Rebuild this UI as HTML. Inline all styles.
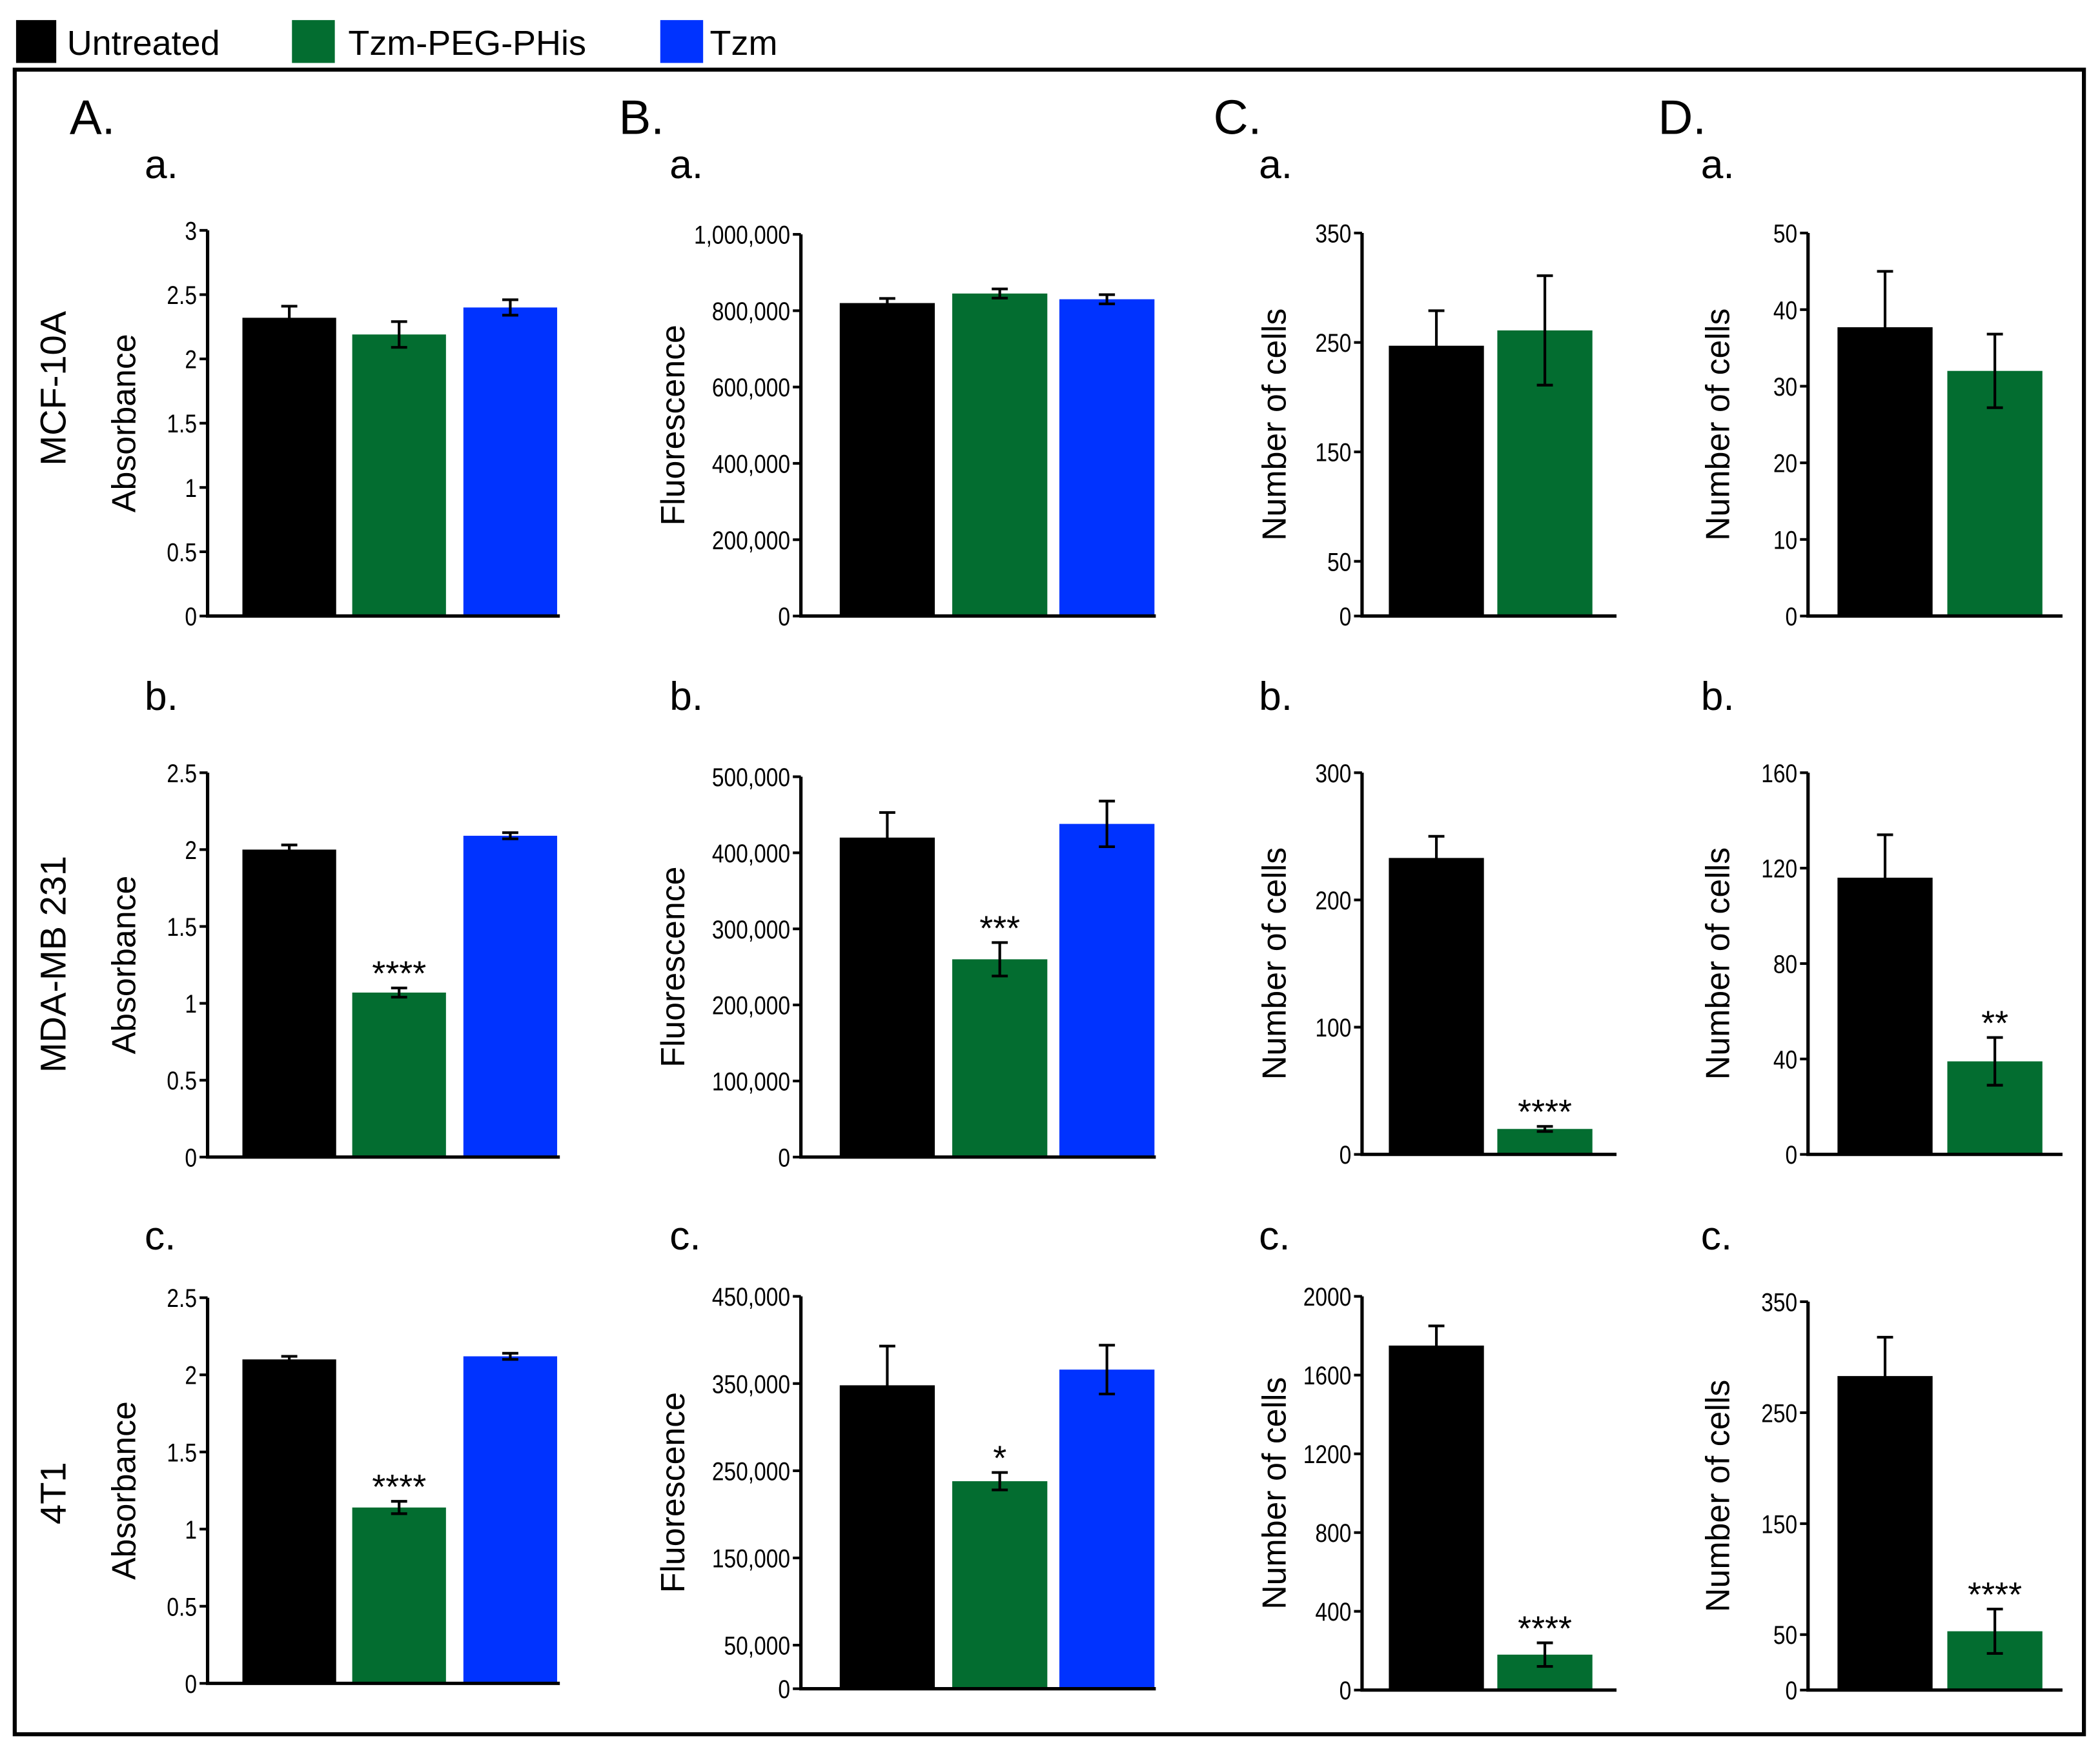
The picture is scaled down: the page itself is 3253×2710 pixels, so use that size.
<!DOCTYPE html>
<html><head><meta charset="utf-8"><style>
html,body{margin:0;padding:0;background:#fff;}
svg{display:block;}
text{font-family:"Liberation Sans",sans-serif;}
</style></head><body>
<svg id="fig" width="3253" height="2710" viewBox="0 0 1568 1306" preserveAspectRatio="none" xmlns="http://www.w3.org/2000/svg">
<rect x="0" y="0" width="1568" height="1306" fill="#fff"/>
<g>
<rect x="12" y="15" width="30" height="32" fill="#000"/>
<text x="50" y="41" font-size="26">Untreated</text>
<rect x="218" y="15" width="32" height="32" fill="#036d30"/>
<text x="260" y="41" font-size="26">Tzm-PEG-PHis</text>
<rect x="493" y="15" width="32" height="32" fill="#0033ff"/>
<text x="530" y="41" font-size="26">Tzm</text>
</g>
<rect x="11" y="52" width="1545" height="1243" fill="none" stroke="#000" stroke-width="3"/>
<g id="panels"></g>
</svg>
<script>
const NS="http://www.w3.org/2000/svg";
const colors=["#000000","#036d30","#0033ff"];
// data arrays
const a1Vals=[2.32,2.19,2.4], a1Err=[0.09,0.1,0.06];
const a2Vals=[2.0,1.07,2.09], a2Err=[0.03,0.03,0.02];
const a3Vals=[2.1,1.14,2.12], a3Err=[0.02,0.04,0.02];
const b1Vals=[820000,845000,830000], b1Err=[12000,12000,12000];
const b2Vals=[420000,260000,438000], b2Err=[33000,22000,30000];
const b3Vals=[348000,238000,366000], b3Err=[45000,10000,28000];
const c1Vals=[247,261], c1Err=[32,50];
const c2Vals=[233,20], c2Err=[17,2];
const c3Vals=[1750,180], c3Err=[100,60];
const d1Vals=[37.7,32], d1Err=[7.3,4.8];
const d2Vals=[116,39], d2Err=[18,10];
const d3Vals=[283,53], d3Err=[35,20];
const absTicks=[0,0.5,1,1.5,2,2.5];
const absTickLabels=["0","0.5","1","1.5","2","2.5"];
const absTicks3=[0,0.5,1,1.5,2,2.5,3];
const absTickLabels3=["0","0.5","1","1.5","2","2.5","3"];
const b1Ticks=[0,200000,400000,600000,800000,1000000];
const b1Labels=["0","200,000","400,000","600,000","800,000","1,000,000"];
const b2Ticks=[0,100000,200000,300000,400000,500000];
const b2Labels=["0","100,000","200,000","300,000","400,000","500,000"];
const b3Ticks=[0,50000,150000,250000,350000,450000];
const b3Labels=["0","50,000","150,000","250,000","350,000","450,000"];
const c1Ticks=[0,50,150,250,350], c1Labels=["0","50","150","250","350"];
const c2Ticks=[0,100,200,300], c2Labels=["0","100","200","300"];
const c3Ticks=[0,400,800,1200,1600,2000], c3Labels=["0","400","800","1200","1600","2000"];
const d1Ticks=[0,10,20,30,40,50], d1Labels=["0","10","20","30","40","50"];
const d2Ticks=[0,40,80,120,160], d2Labels=["0","40","80","120","160"];
const d3Ticks=[0,50,150,250,350], d3Labels=["0","50","150","250","350"];

const root=document.getElementById('panels');
function el(tag,attrs,parent){const e=document.createElementNS(NS,tag);for(const k in attrs)e.setAttribute(k,attrs[k]);(parent||root).appendChild(e);return e;}
function txt(s,attrs,parent){const e=el('text',attrs,parent);e.textContent=s;return e;}

function panel(name,cfg){
  const g=el('g',{});
  
  
  const {ax,top,bot,max,vals,errs,ticks,labels,barX,barW,stars,ytitle,ytx,axEnd}=cfg;
  const y=v=>bot-(v/max)*(bot-top);
  vals.forEach((v,i)=>{
    const r=el('rect',{x:barX[i],y:y(v),width:barW,height:bot-y(v),fill:colors[i]},g);
    
    
    const cx=barX[i]+barW/2, e=errs[i];
    const eb=el('path',{d:`M${cx} ${y(v+e)}V${y(v-e)}M${cx-6} ${y(v+e)}H${cx+6}M${cx-6} ${y(v-e)}H${cx+6}`,stroke:'#000','stroke-width':2,fill:'none'},g);
    
    
    if(stars&&stars[i]){
      const s=txt(stars[i],{x:cx,y:y(v+e)-2,'font-size':26,'text-anchor':'middle'},g);
      
      
    }
  });
  const axis=el('path',{d:`M${ax} ${top}V${bot}H${axEnd}`,stroke:'#000','stroke-width':2.5,fill:'none'},g);
  
  
  ticks.forEach((t,i)=>{
    el('path',{d:`M${ax-6} ${y(t)}H${ax}`,stroke:'#000','stroke-width':2},g);
    const tl=txt(labels[i],{x:ax-8,y:y(t)+7,'font-size':19,'text-anchor':'end',transform:`translate(${ax-8} 0) scale(0.85 1) translate(${-(ax-8)} 0)`},g);
    
    
  });
  const yt=txt(ytitle,{x:0,y:0,'font-size':25,'text-anchor':'middle',transform:`translate(${ytx} ${(top+bot)/2}) rotate(-90)`},g);
  
  
}
const A={ax:155,barX:[181,263,346],barW:70,axEnd:418,ytitle:"Absorbance",ytx:101};
const B={ax:598,barX:[627,711,791],barW:71,axEnd:863,ytitle:"Fluorescence",ytx:511};
const C={ax:1017,barX:[1037,1118],barW:71,axEnd:1207,ytitle:"Number of cells",ytx:960};
const D={ax:1350,barX:[1372,1454],barW:71,axEnd:1540,ytitle:"Number of cells",ytx:1291};
panel('panel-a-a',{...A,top:172,bot:460,max:3,vals:a1Vals,errs:a1Err,ticks:absTicks3,labels:absTickLabels3});
panel('panel-a-b',{...A,top:577,bot:864,max:2.5,vals:a2Vals,errs:a2Err,ticks:absTicks,labels:absTickLabels,stars:["","****",""]});
panel('panel-a-c',{...A,top:969,bot:1257,max:2.5,vals:a3Vals,errs:a3Err,ticks:absTicks,labels:absTickLabels,stars:["","****",""]});
panel('panel-b-a',{...B,top:175,bot:460,max:1000000,vals:b1Vals,errs:b1Err,ticks:b1Ticks,labels:b1Labels});
panel('panel-b-b',{...B,top:580,bot:864,max:500000,vals:b2Vals,errs:b2Err,ticks:b2Ticks,labels:b2Labels,stars:["","***",""]});
panel('panel-b-c',{...B,top:968,bot:1261,max:450000,vals:b3Vals,errs:b3Err,ticks:b3Ticks,labels:b3Labels,stars:["","*",""]});
panel('panel-c-a',{...C,top:174,bot:460,max:350,vals:c1Vals,errs:c1Err,ticks:c1Ticks,labels:c1Labels});
panel('panel-c-b',{...C,top:577,bot:862,max:300,vals:c2Vals,errs:c2Err,ticks:c2Ticks,labels:c2Labels,stars:["","****"]});
panel('panel-c-c',{...C,top:968,bot:1262,max:2000,vals:c3Vals,errs:c3Err,ticks:c3Ticks,labels:c3Labels,stars:["","****"]});
panel('panel-d-a',{...D,top:174,bot:460,max:50,vals:d1Vals,errs:d1Err,ticks:d1Ticks,labels:d1Labels});
panel('panel-d-b',{...D,top:577,bot:862,max:160,vals:d2Vals,errs:d2Err,ticks:d2Ticks,labels:d2Labels,stars:["","**"]});
panel('panel-d-c',{...D,top:972,bot:1262,max:350,vals:d3Vals,errs:d3Err,ticks:d3Ticks,labels:d3Labels,stars:["","****"]});

const colLetters=["A.","B.","C.","D."], colX=[52,462,906,1238], subX=[108,500,940,1270];
colLetters.forEach((l,i)=>{
  const t=txt(l,{x:colX[i],y:100,'font-size':36});
  
  
  [["a.",133],["b.",530],["c.",933]].forEach(([s,yy])=>{
    const u=txt(s,{x:subX[i],y:yy,'font-size':30});
    
    
  });
});
const rowNames=["MCF-10A","MDA-MB 231","4T1"], rowY=[290,720,1115];
rowNames.forEach((r,i)=>{
  const t=txt(r,{x:0,y:0,'font-size':27,'text-anchor':'middle',transform:`translate(49 ${rowY[i]}) rotate(-90)`});
  
  
});
</script>
</body></html>
